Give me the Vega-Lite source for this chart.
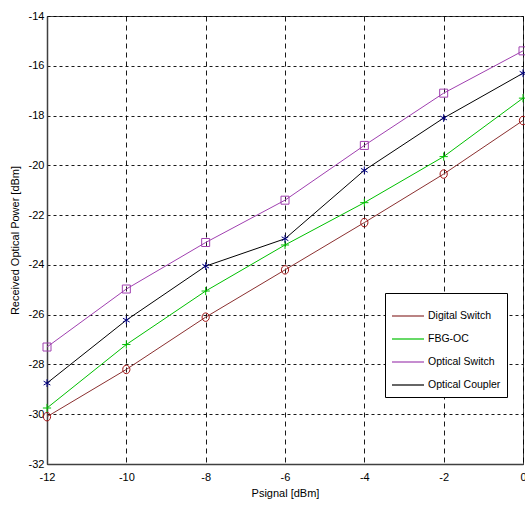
{
  "$schema": "https://vega.github.io/schema/vega-lite/v6.json",
  "width": 476,
  "height": 448,
  "autosize": {"type": "none"},
  "padding": {"left": 47, "top": 16, "right": 2, "bottom": 46},
  "background": "white",
  "config": {
    "view": {"stroke": "#404040", "strokeWidth": 1},
    "font": "Liberation Sans",
    "axis": {
      "labelFont": "Liberation Sans",
      "titleFont": "Liberation Sans",
      "labelFontSize": 11,
      "titleFontSize": 11,
      "labelColor": "#000000",
      "titleColor": "#000000",
      "titleFontWeight": "normal",
      "domainColor": "#404040",
      "domainWidth": 1.5,
      "ticks": false,
      "gridColor": "#000000",
      "gridOpacity": 0.9,
      "gridWidth": 1,
      "labelExpr": "'' + datum.value"
    }
  },
  "data": {
    "values": [
      {"series": "Digital Switch", "x": -12, "y": -30.1},
      {"series": "Digital Switch", "x": -10, "y": -28.2},
      {"series": "Digital Switch", "x": -8, "y": -26.1},
      {"series": "Digital Switch", "x": -6, "y": -24.2},
      {"series": "Digital Switch", "x": -4, "y": -22.3},
      {"series": "Digital Switch", "x": -2, "y": -20.35},
      {"series": "Digital Switch", "x": 0, "y": -18.2},
      {"series": "FBG-OC", "x": -12, "y": -29.75},
      {"series": "FBG-OC", "x": -10, "y": -27.2},
      {"series": "FBG-OC", "x": -8, "y": -25.05},
      {"series": "FBG-OC", "x": -6, "y": -23.2},
      {"series": "FBG-OC", "x": -4, "y": -21.5},
      {"series": "FBG-OC", "x": -2, "y": -19.65},
      {"series": "FBG-OC", "x": 0, "y": -17.3},
      {"series": "Optical Switch", "x": -12, "y": -27.3},
      {"series": "Optical Switch", "x": -10, "y": -24.97},
      {"series": "Optical Switch", "x": -8, "y": -23.1},
      {"series": "Optical Switch", "x": -6, "y": -21.4},
      {"series": "Optical Switch", "x": -4, "y": -19.2},
      {"series": "Optical Switch", "x": -2, "y": -17.1},
      {"series": "Optical Switch", "x": 0, "y": -15.4},
      {"series": "Optical Coupler", "x": -12, "y": -28.75},
      {"series": "Optical Coupler", "x": -10, "y": -26.22},
      {"series": "Optical Coupler", "x": -8, "y": -24.05},
      {"series": "Optical Coupler", "x": -6, "y": -22.95},
      {"series": "Optical Coupler", "x": -4, "y": -20.2},
      {"series": "Optical Coupler", "x": -2, "y": -18.1},
      {"series": "Optical Coupler", "x": 0, "y": -16.3}
    ]
  },
  "encoding": {
    "x": {
      "field": "x", "type": "quantitative",
      "scale": {"domain": [-12, 0], "nice": false, "zero": false},
      "axis": {"title": "Psignal [dBm]", "values": [-12, -10, -8, -6, -4, -2, 0], "labelPadding": 7, "titlePadding": 5, "gridDash": [5, 4], "labelFlush": false}
    },
    "y": {
      "field": "y", "type": "quantitative",
      "scale": {"domain": [-32, -14], "nice": false, "zero": false},
      "axis": {"title": "Received Optical Power [dBm]", "values": [-32, -30, -28, -26, -24, -22, -20, -18, -16, -14], "labelPadding": 3, "titlePadding": 8, "gridDash": [3, 3], "labelFlush": false}
    }
  },
  "layer": [
    {
      "mark": {"type": "line", "strokeWidth": 1},
      "encoding": {
        "color": {
          "field": "series", "type": "nominal",
          "scale": {"domain": ["Digital Switch", "FBG-OC", "Optical Switch", "Optical Coupler"], "range": ["#8B3030", "#00C000", "#A040B0", "#000000"]},
          "legend": {
            "orient": "none", "legendX": 338, "legendY": 277,
            "title": null,
            "fillColor": "white", "strokeColor": "#000000",
            "padding": 6,
            "symbolType": "stroke",
            "symbolSize": 1024,
            "symbolStrokeWidth": 1.2,
            "labelFont": "Liberation Sans",
            "labelFontSize": 10.5,
            "labelColor": "#000000",
            "labelOffset": 3,
            "rowPadding": -14
          }
        }
      }
    },
    {
      "mark": {"type": "point", "filled": false, "strokeWidth": 1, "opacity": 1},
      "encoding": {
        "color": {
          "field": "series", "type": "nominal",
          "scale": {"domain": ["Digital Switch", "FBG-OC", "Optical Switch", "Optical Coupler"], "range": ["#A01010", "#00C000", "#A040B0", "#000080"]},
          "legend": null
        },
        "shape": {
          "field": "series", "type": "nominal",
          "scale": {"domain": ["Digital Switch", "FBG-OC", "Optical Switch", "Optical Coupler"], "range": ["M-0.85,0A0.85,1 0 1,0 0.85,0A0.85,1 0 1,0 -0.85,0", "M-1,0H1M0,-1V1", "square", "M0,-1V1M-0.87,-0.5L0.87,0.5M-0.87,0.5L0.87,-0.5"]},
          "legend": null
        },
        "size": {
          "field": "series", "type": "nominal",
          "scale": {"domain": ["Digital Switch", "FBG-OC", "Optical Switch", "Optical Coupler"], "range": [72, 60, 90, 42]},
          "legend": null
        }
      }
    }
  ],
  "resolve": {"scale": {"color": "independent"}, "legend": {"color": "independent"}}
}
